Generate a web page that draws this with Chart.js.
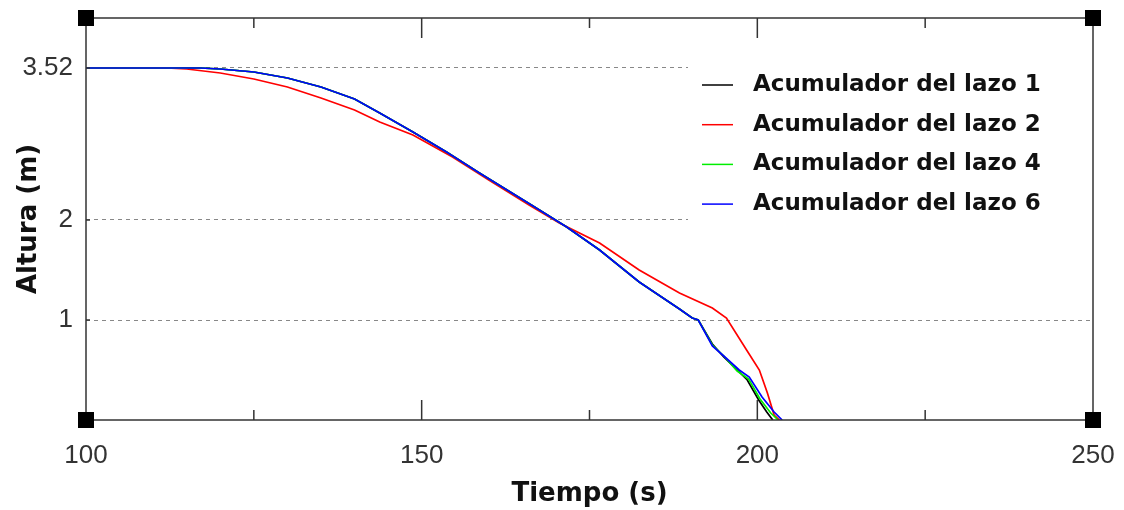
<!DOCTYPE html>
<html>
<head>
<meta charset="utf-8">
<script src="https://cdn.jsdelivr.net/npm/chart.js@4"></script>
<style>
  html, body { margin: 0; padding: 0; background: #fff; }
  canvas { display: block; }
</style>
</head>
<body>
<canvas id="chart" width="1124" height="510"></canvas>
<script>
// --- data ---
const seriesLabels = ['Acumulador del lazo 1', 'Acumulador del lazo 2', 'Acumulador del lazo 4', 'Acumulador del lazo 6'];

const tLazo1 = [100, 117, 120, 125, 130, 135, 140, 143.75, 148.7, 153.7, 158.6, 166.1, 171.6, 176.5, 182.4, 188.4, 190.3, 191.2, 193.3, 195, 197, 198.5, 200.2, 201.4, 202.3];
const hLazo1 = [3.52, 3.52, 3.51, 3.48, 3.42, 3.33, 3.21, 3.07, 2.88, 2.68, 2.47, 2.16, 1.93, 1.70, 1.38, 1.11, 1.02, 1.00, 0.76, 0.63, 0.50, 0.40, 0.20, 0.08, 0];

const tLazo2 = [100, 112, 115, 120, 125, 130, 135, 140, 143.75, 148.7, 154.6, 160, 166, 170.5, 176.5, 182.4, 188.4, 193.3, 195.4, 198.4, 200.3, 201.5, 202.5, 203.3];
const hLazo2 = [3.52, 3.52, 3.51, 3.47, 3.41, 3.33, 3.22, 3.10, 2.98, 2.85, 2.63, 2.40, 2.15, 1.97, 1.77, 1.50, 1.27, 1.12, 1.02, 0.70, 0.50, 0.27, 0.05, 0];

const tLazo4 = [100, 117, 120, 125, 130, 135, 140, 143.75, 148.7, 153.7, 158.6, 166.1, 171.6, 176.5, 182.4, 188.4, 190.3, 191.2, 193.3, 195, 197, 198.7, 200.4, 202, 203.1];
const hLazo4 = [3.52, 3.52, 3.51, 3.48, 3.42, 3.33, 3.21, 3.07, 2.88, 2.68, 2.47, 2.16, 1.93, 1.70, 1.38, 1.11, 1.02, 1.00, 0.75, 0.64, 0.49, 0.41, 0.21, 0.07, 0];

const tLazo6 = [100, 117, 120, 125, 130, 135, 140, 143.75, 148.7, 153.7, 158.6, 166.1, 171.6, 176.5, 182.4, 188.4, 190.3, 191.2, 193.3, 195, 197.3, 198.8, 200.7, 202.5, 203.7];
const hLazo6 = [3.52, 3.52, 3.51, 3.48, 3.42, 3.33, 3.21, 3.07, 2.88, 2.68, 2.47, 2.16, 1.93, 1.70, 1.38, 1.11, 1.02, 1.00, 0.74, 0.64, 0.50, 0.43, 0.23, 0.08, 0];

const xTickValues = [100, 150, 200, 250];
const xTickLabels = ['100', '150', '200', '250'];
const xMinorTicks = [125, 175, 225];
const yTickValues = [1, 2, 3.52];
const yTickLabels = ['1', '2', '3.52'];

const toPoints = (ts, hs) => ts.map((t, i) => ({ x: t, y: hs[i] }));

const colors = ['#000000', '#ff0000', '#00ee00', '#0000ff'];
const series = [toPoints(tLazo1, hLazo1), toPoints(tLazo2, hLazo2), toPoints(tLazo4, hLazo4), toPoints(tLazo6, hLazo6)];
const drawOrder = [4, 3, 2, 1]; // blue on top

const tickFont = { family: 'Liberation Sans', size: 26 };
const titleFont = { family: 'DejaVu Sans', size: 26, weight: 'bold' };

// legend box + frame, corner squares and tick marks
const framePlugin = {
    id: 'frame',
    afterDatasetsDraw(chart) {
        const { ctx, chartArea: a } = chart;
        ctx.save();
        ctx.fillStyle = '#fff';
        ctx.fillRect(688, a.top + 40, a.right - 688, 170);
        ctx.font = 'bold 23px "DejaVu Sans"';
        ctx.textBaseline = 'middle';
        chart.data.datasets.forEach((ds, i) => {
            const y = a.top + 67 + i * 39.7;
            ctx.strokeStyle = ds.borderColor;
            ctx.lineWidth = 1.5;
            ctx.beginPath();
            ctx.moveTo(702, y);
            ctx.lineTo(733, y);
            ctx.stroke();
            ctx.fillStyle = '#111';
            ctx.fillText(ds.label, 753, y);
        });
        ctx.restore();
    },
    afterDraw(chart) {
        const { ctx, chartArea: a, scales: { x, y } } = chart;
        ctx.save();
        ctx.strokeStyle = '#333';
        ctx.lineWidth = 1.5;
        ctx.strokeRect(a.left, a.top, a.right - a.left, a.bottom - a.top);
        ctx.beginPath();
        const tick = (v, len) => {
            const px = x.getPixelForValue(v);
            ctx.moveTo(px, a.bottom); ctx.lineTo(px, a.bottom - len);
            ctx.moveTo(px, a.top); ctx.lineTo(px, a.top + len);
        };
        xTickValues.slice(1, -1).forEach(v => tick(v, 20));
        xMinorTicks.forEach(v => tick(v, 10));
        yTickValues.forEach(v => {
            const py = y.getPixelForValue(v);
            ctx.moveTo(a.left, py); ctx.lineTo(a.left + 4, py);
        });
        ctx.stroke();
        ctx.fillStyle = '#000';
        [[a.left, a.top], [a.right, a.top], [a.left, a.bottom], [a.right, a.bottom]].forEach(([cx, cy]) => {
            ctx.fillRect(cx - 8, cy - 8, 16, 16);
        });
        ctx.restore();
    }
};

const noEdgePadding = s => {
    s.paddingTop = 0; s.paddingBottom = 0; s.paddingLeft = 0; s.paddingRight = 0;
};

new Chart(document.getElementById('chart').getContext('2d'), {
    type: 'line',
    data: {
        datasets: series.map((pts, i) => ({
            label: seriesLabels[i],
            data: pts,
            borderColor: colors[i],
            borderWidth: 1.7,
            pointRadius: 0,
            tension: 0,
            fill: false,
            order: drawOrder[i]
        }))
    },
    options: {
        responsive: false,
        devicePixelRatio: 1,
        animation: false,
        layout: { padding: { top: 18, right: 31, left: 0, bottom: 0 } },
        plugins: { legend: { display: false }, tooltip: { enabled: false } },
        scales: {
            x: {
                type: 'linear',
                min: 100,
                max: 250,
                afterBuildTicks: s => { s.ticks = xTickValues.map(v => ({ value: v })); },
                afterFit: s => { s.height = 90; noEdgePadding(s); },
                grid: { display: false },
                border: { display: false },
                ticks: {
                    font: tickFont,
                    color: '#333',
                    padding: 12,
                    maxRotation: 0,
                    callback: (v, i) => xTickLabels[i]
                },
                title: { display: true, text: 'Tiempo (s)', font: titleFont, color: '#111', padding: { top: 0, bottom: 0 } }
            },
            y: {
                type: 'linear',
                min: 0,
                max: 4.02,
                afterBuildTicks: s => { s.ticks = yTickValues.map(v => ({ value: v })); },
                afterFit: s => { s.width = 86; noEdgePadding(s); },
                grid: { color: '#888', lineWidth: 1, drawTicks: false },
                border: { display: false, dash: [4, 4] },
                ticks: {
                    font: tickFont,
                    color: '#333',
                    padding: 13,
                    callback: (v, i) => yTickLabels[i]
                },
                title: { display: true, text: 'Altura (m)', font: titleFont, color: '#111', padding: { top: 14, bottom: 0 } }
            }
        }
    },
    plugins: [framePlugin]
});
</script>
</body>
</html>
